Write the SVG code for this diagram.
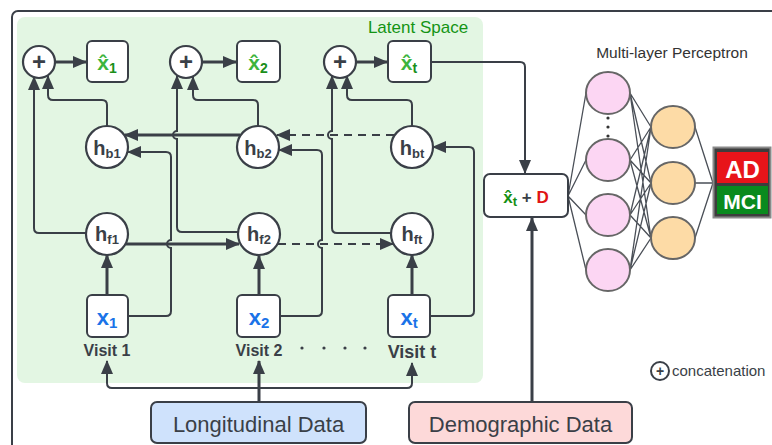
<svg xmlns="http://www.w3.org/2000/svg" width="772" height="445" viewBox="0 0 772 445">
<defs>
<marker id="ah" markerWidth="14" markerHeight="12" refX="13" refY="6" orient="auto" markerUnits="userSpaceOnUse"><path d="M0,0 L14,6 L0,12 z" fill="#3a3f47"/></marker>
<style>
.ln{fill:none;stroke:#3a3f47;stroke-width:2}
.th{stroke-width:3}
.ds{stroke-dasharray:8 6}
.mlp{fill:none;stroke:#4a4f57;stroke-width:1.3}
.box{fill:#fff;stroke:#3a3f47;stroke-width:2}
.circ{fill:#fff;stroke:#3a3f47;stroke-width:2.2}
.t{font-family:"Liberation Sans",Arial,sans-serif}
.h{font-family:"Liberation Sans",Arial,sans-serif;font-weight:bold;fill:#3a3f47;font-size:20px;text-anchor:middle}
.xb{font-family:"Liberation Sans",Arial,sans-serif;font-weight:bold;fill:#1a73e8;font-size:22px;text-anchor:middle}
.xh{font-family:"Liberation Sans",Arial,sans-serif;font-weight:bold;fill:#3cb43c;font-size:21px;text-anchor:middle}
.plus{font-family:"Liberation Sans",Arial,sans-serif;font-weight:bold;fill:#3a3f47;font-size:24px;text-anchor:middle}
.visit{font-family:"Liberation Sans",Arial,sans-serif;font-weight:bold;fill:#3a3f47;text-anchor:middle}
.pink{fill:#fcd6f3;stroke:#666;stroke-width:2}
.org{fill:#fddba6;stroke:#666;stroke-width:2}
</style>
</defs>
<rect x="12" y="11" width="820" height="500" rx="6" fill="#fff" stroke="#3a3f47" stroke-width="2"/>
<rect x="17" y="17" width="466" height="366" rx="8" fill="#e3f6e3"/>
<text class="t" x="418" y="33" font-size="17" fill="#149414" text-anchor="middle">Latent Space</text>

<g id="connectors">
<path class="ln th" d="M55,62 H86" marker-end="url(#ah)"/>
<path class="ln th" d="M202,62 H236" marker-end="url(#ah)"/>
<path class="ln th" d="M356,62 H387" marker-end="url(#ah)"/>
<path class="ln" d="M86,233 H39 Q34,233 34,228 V77" marker-end="url(#ah)"/>
<path class="ln" d="M107,126 V105 Q107,100 102,100 H53 Q48,100 48,95 V76" marker-end="url(#ah)"/>
<path class="ln" d="M238,232 H182 Q177,232 177,227 V139 A4,4 0 0,1 177,131 V76" marker-end="url(#ah)"/>
<path class="ln" d="M258,126 V105 Q258,100 253,100 H198 Q193,100 193,95 V77" marker-end="url(#ah)"/>
<path class="ln" d="M391,233 H337 Q332,233 332,228 V139 A4,4 0 0,1 332,131 V76" marker-end="url(#ah)"/>
<path class="ln" d="M412,126 V105 Q412,100 407,100 H352 Q347,100 347,95 V76" marker-end="url(#ah)"/>
<path class="ln th" d="M107,295 V255" marker-end="url(#ah)"/>
<path class="ln th" d="M259,295 V256" marker-end="url(#ah)"/>
<path class="ln th" d="M412,295 V255" marker-end="url(#ah)"/>
<path class="ln" d="M128,316 H166 Q171,316 171,311 V248 A4,4 0 0,1 171,240 V157 Q171,152 166,152 H128" marker-end="url(#ah)"/>
<path class="ln" d="M280,316 H317 Q322,316 322,311 V248 A4,4 0 0,1 322,240 V155 Q322,150 317,150 H279" marker-end="url(#ah)"/>
<path class="ln" d="M430,316 H469 Q474,316 474,311 V152 Q474,147 469,147 H433" marker-end="url(#ah)"/>
<path class="ln th" d="M240,135 H125" marker-end="url(#ah)"/>
<path class="ln ds" d="M394,135 H277" marker-end="url(#ah)"/>
<path class="ln th" d="M126,244 H239" marker-end="url(#ah)"/>
<path class="ln ds" d="M278,244 H393" marker-end="url(#ah)"/>
<path class="ln" d="M431,62 H520 Q525,62 525,67 V173" marker-end="url(#ah)"/>
<path class="ln th" d="M532,401 V218" marker-end="url(#ah)"/>
<path class="ln th" d="M259,402 V361" marker-end="url(#ah)"/>
<path class="ln" d="M259,388 H112 Q107,388 107,383 V361" marker-end="url(#ah)"/>
<path class="ln" d="M259,388 H407 Q412,388 412,383 V363" marker-end="url(#ah)"/>
<g id="mlp-edges">
<path class="mlp" d="M568,196 L586,93 M568,196 L586,160 M568,196 L586,215 M568,196 L586,270"/>
<path class="mlp" d="M630,93 L651,127 M630,93 L651,183 M630,93 L651,238 M630,160 L651,127 M630,160 L651,183 M630,160 L651,238 M630,215 L651,127 M630,215 L651,183 M630,215 L651,238 M630,270 L651,127 M630,270 L651,183 M630,270 L651,238"/>
<path class="mlp" d="M695,127 L713,183 M695,183 L713,183 M695,238 L713,183"/>
</g>
</g>

<g id="plus1"><circle class="circ" cx="39" cy="62" r="16"/><text class="plus" x="39" y="70">+</text></g>
<g id="plus2"><circle class="circ" cx="186" cy="62" r="16"/><text class="plus" x="186" y="70">+</text></g>
<g id="plus3"><circle class="circ" cx="340" cy="62" r="16"/><text class="plus" x="340" y="70">+</text></g>

<g id="xhat1"><rect class="box" x="87" y="41" width="41" height="41" rx="5"/><text class="xh" x="107" y="70">x̂<tspan font-size="14" fill="#1a8f1a" dy="3">1</tspan></text></g>
<g id="xhat2"><rect class="box" x="237" y="41" width="43" height="41" rx="5"/><text class="xh" x="258" y="70">x̂<tspan font-size="14" fill="#1a8f1a" dy="3">2</tspan></text></g>
<g id="xhatt"><rect class="box" x="388" y="41" width="43" height="41" rx="5"/><text class="xh" x="409" y="70">x̂<tspan font-size="14" fill="#1a8f1a" dy="3">t</tspan></text></g>

<g id="hb1"><circle class="circ" cx="107" cy="147" r="21"/><text class="h" x="107" y="155">h<tspan font-size="13" dy="3">b1</tspan></text></g>
<g id="hb2"><circle class="circ" cx="258" cy="147" r="21"/><text class="h" x="258" y="155">h<tspan font-size="13" dy="3">b2</tspan></text></g>
<g id="hbt"><circle class="circ" cx="412" cy="147" r="21"/><text class="h" x="412" y="155" font-size="18">h<tspan font-size="13" dy="3">bt</tspan></text></g>

<g id="hf1"><circle class="circ" cx="107" cy="234" r="21"/><text class="h" x="107" y="241">h<tspan font-size="13" dy="3">f1</tspan></text></g>
<g id="hf2"><circle class="circ" cx="259" cy="234" r="21"/><text class="h" x="259" y="241">h<tspan font-size="13" dy="3">f2</tspan></text></g>
<g id="hft"><circle class="circ" cx="412" cy="234" r="21"/><text class="h" x="412" y="241">h<tspan font-size="13" dy="3">ft</tspan></text></g>

<g id="x1"><rect class="box" x="87" y="295" width="41" height="42" rx="5"/><text class="xb" x="107" y="325">x<tspan font-size="15" dy="3">1</tspan></text><text class="visit" x="107" y="356" font-size="16">Visit 1</text></g>
<g id="x2"><rect class="box" x="237" y="295" width="43" height="42" rx="5"/><text class="xb" x="259" y="325">x<tspan font-size="15" dy="3">2</tspan></text><text class="visit" x="259" y="356" font-size="16">Visit 2</text></g>
<g id="xt"><rect class="box" x="388" y="295" width="42" height="42" rx="5"/><text class="xb" x="409" y="325">x<tspan font-size="15" dy="3">t</tspan></text><text class="visit" x="412" y="358" font-size="18">Visit t</text></g>
<g id="dots" fill="#3a3f47"><circle cx="302" cy="348" r="1.6"/><circle cx="324" cy="348" r="1.6"/><circle cx="345" cy="348" r="1.6"/><circle cx="365" cy="348" r="1.6"/></g>

<g id="combined"><rect class="box" x="484" y="174" width="84" height="43" rx="6"/><text class="t" x="526" y="203" font-size="17" font-weight="bold" text-anchor="middle"><tspan fill="#148f14">x̂</tspan><tspan fill="#148f14" font-size="13" dy="3">t</tspan><tspan fill="#3a3f47" dy="-3"> + </tspan><tspan fill="#e01414">D</tspan></text></g>

<g id="mlp">
<text class="t" x="672" y="58" font-size="15.5" fill="#333" text-anchor="middle">Multi-layer Perceptron</text>
<ellipse class="pink" cx="608" cy="93" rx="22" ry="21"/>
<ellipse class="pink" cx="608" cy="160" rx="22" ry="21"/>
<ellipse class="pink" cx="608" cy="215" rx="22" ry="21"/>
<ellipse class="pink" cx="608" cy="270" rx="22" ry="21"/>
<circle cx="608" cy="118" r="1.6" fill="#333"/><circle cx="608" cy="127" r="1.6" fill="#333"/><circle cx="608" cy="136" r="1.6" fill="#333"/>
<ellipse class="org" cx="673" cy="127" rx="22" ry="21"/>
<ellipse class="org" cx="673" cy="183" rx="22" ry="21"/>
<ellipse class="org" cx="673" cy="238" rx="22" ry="21"/>
</g>

<g id="output">
<rect x="713.5" y="147.5" width="57" height="70" fill="#3d3d3d" stroke="#8a8a8a" stroke-width="2"/>
<rect x="717" y="152" width="51" height="31" fill="#e8141a"/>
<rect x="717" y="186" width="51" height="28" fill="#0a8a1e"/>
<text class="t" x="742.5" y="178" font-size="24" font-weight="bold" fill="#fff" text-anchor="middle">AD</text>
<text class="t" x="742.5" y="209" font-size="21" font-weight="bold" fill="#fff" text-anchor="middle">MCI</text>
</g>

<g id="legend"><circle cx="660" cy="371" r="9" fill="#fff" stroke="#3a3f47" stroke-width="2"/><text class="t" x="660" y="376" font-size="14" font-weight="bold" fill="#3a3f47" text-anchor="middle">+</text><text class="t" x="672" y="376" font-size="15" fill="#3a3f47">concatenation</text></g>

<g id="longitudinal"><rect x="151" y="402" width="215" height="41" rx="6" fill="#cfe2fc" stroke="#3a3f47" stroke-width="2"/><text class="t" x="258.5" y="432" font-size="22" fill="#3a3f47" text-anchor="middle">Longitudinal Data</text></g>
<g id="demographic"><rect x="409" y="402" width="223" height="41" rx="6" fill="#fdd9d9" stroke="#3a3f47" stroke-width="2"/><text class="t" x="520.5" y="432" font-size="22" fill="#3a3f47" text-anchor="middle">Demographic Data</text></g>
</svg>
